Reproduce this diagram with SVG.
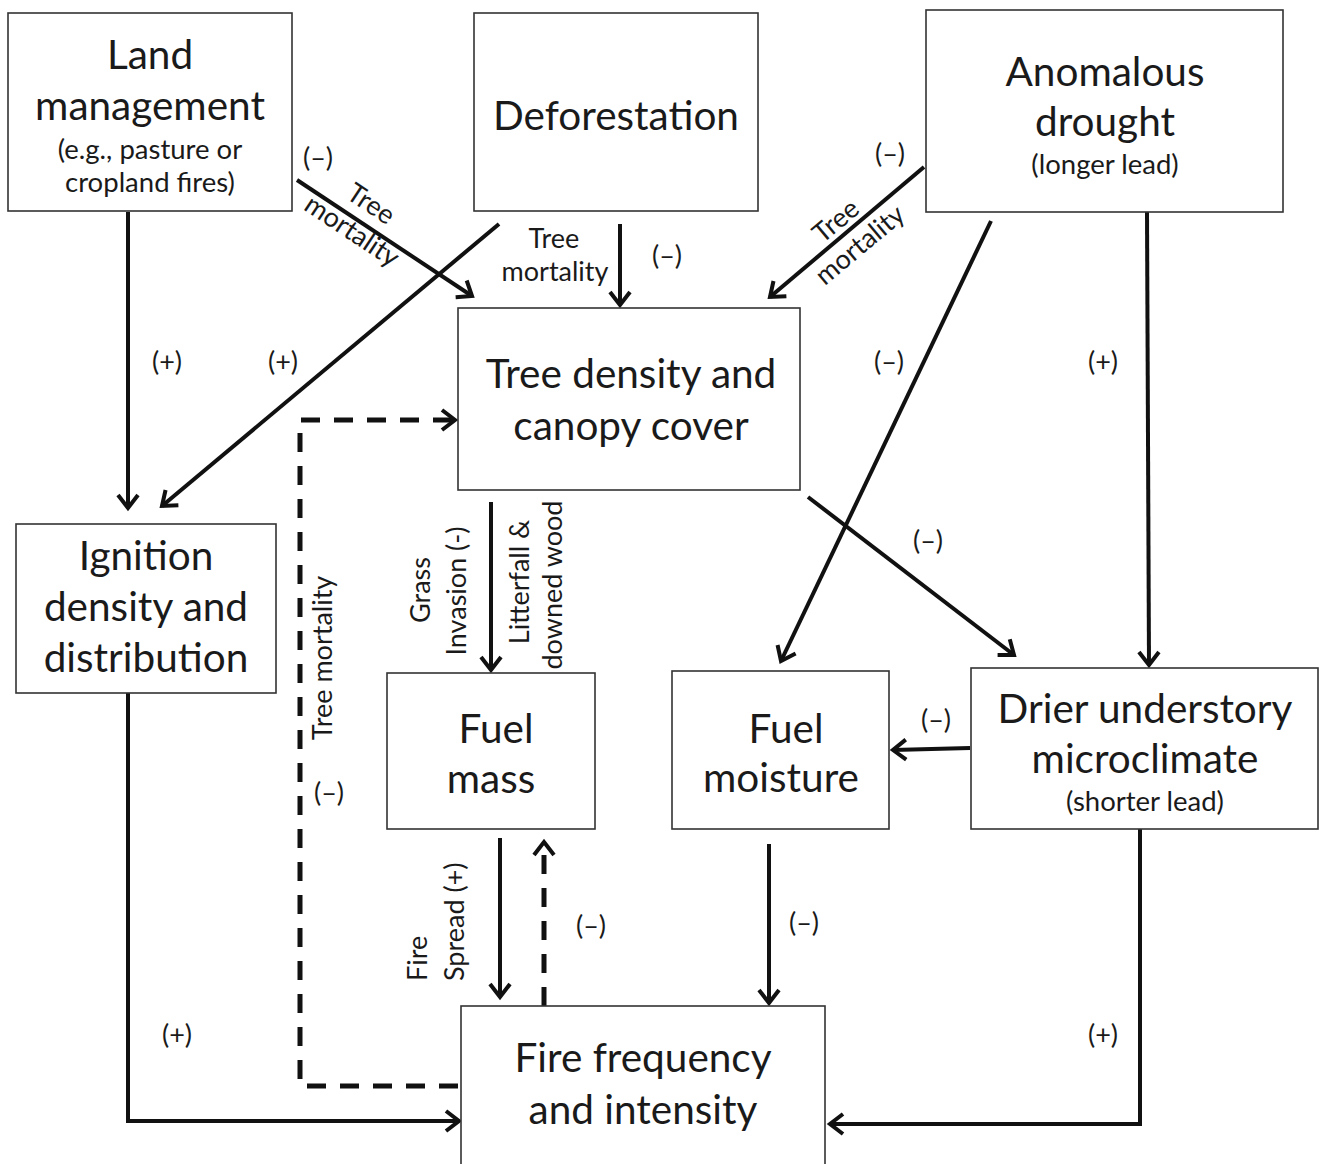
<svg xmlns="http://www.w3.org/2000/svg" width="1320" height="1164" viewBox="0 0 1320 1164">
<style>
.box{fill:#fff;stroke:#333;stroke-width:1.6}
.big{font-family:Lato,"Open Sans",sans-serif;font-size:40.5px;fill:#1a1a1a;text-anchor:middle}
.sm{font-family:Lato,"Open Sans",sans-serif;font-size:27.5px;fill:#1a1a1a;text-anchor:middle}
.lbl{font-family:Lato,"Open Sans",sans-serif;font-size:27px;fill:#1a1a1a;text-anchor:middle}
.c{fill:none;stroke:#111;stroke-width:4;marker-end:url(#arr)}
.d{stroke-dasharray:19 14;stroke-width:5}
</style>
<defs>
<marker id="arr" viewBox="-20 -15 30 30" refX="0" refY="0" markerWidth="30" markerHeight="30" markerUnits="userSpaceOnUse" orient="auto">
<path d="M-13,-10 L0,0 L-13,10" fill="none" stroke="#111" stroke-width="4"/>
</marker>
</defs>

<g id="connectors">
<path class="c" d="M128,212 V508"/>
<path class="c" d="M297,180 L472,296"/>
<path class="c" d="M499,224 L162,506"/>
<path class="c" d="M620,224 V305"/>
<path class="c" d="M924,167 L770,297"/>
<path class="c" d="M991,221 L781,661"/>
<path class="c" d="M1147,212 L1149,665"/>
<path class="c" d="M808,497 L1014,655"/>
<path class="c" d="M491,502 V670"/>
<path class="c" d="M970,748 L893,750"/>
<path class="c" d="M500,838 V997"/>
<path class="c d" d="M544,1006 V842"/>
<path class="c" d="M769,844 V1003"/>
<path class="c" d="M128,693 V1121 H459"/>
<path class="c" d="M1140,829 V1124 H830"/>
<path class="c d" d="M458,1086 H300 V420 H455"/>

<text class="lbl" x="318" y="167">(–)</text>
<text class="lbl" transform="translate(371,204) rotate(33.5)" y="9">Tree</text>
<text class="lbl" transform="translate(352,231) rotate(33.5)" y="9">mortality</text>
<text class="lbl" x="167" y="371">(+)</text>
<text class="lbl" x="283" y="371">(+)</text>
<text class="lbl" x="554" y="248">Tree</text>
<text class="lbl" x="555" y="281">mortality</text>
<text class="lbl" x="667" y="265">(–)</text>
<text class="lbl" x="890" y="163">(–)</text>
<text class="lbl" transform="translate(836,221) rotate(-40)" y="9">Tree</text>
<text class="lbl" transform="translate(860,245) rotate(-40)" y="9">mortality</text>
<text class="lbl" x="889" y="371">(–)</text>
<text class="lbl" x="1103" y="371">(+)</text>
<text class="lbl" x="928" y="550">(–)</text>
<text class="lbl" transform="translate(421,590) rotate(-90)" y="9">Grass</text>
<text class="lbl" transform="translate(457,591) rotate(-90)" y="9">Invasion (-)</text>
<text class="lbl" transform="translate(520,582) rotate(-90)" y="9">Litterfall &amp;</text>
<text class="lbl" transform="translate(553,585) rotate(-90)" y="9">downed wood</text>
<text class="lbl" transform="translate(323,658) rotate(-90)" y="9">Tree mortality</text>
<text class="lbl" x="329" y="802">(–)</text>
<text class="lbl" x="936" y="729">(–)</text>
<text class="lbl" transform="translate(418,981) rotate(-90)" y="9" style="text-anchor:start">Fire</text>
<text class="lbl" transform="translate(455,981) rotate(-90)" y="9" style="text-anchor:start">Spread (+)</text>
<text class="lbl" x="591" y="935">(–)</text>
<text class="lbl" x="804" y="932">(–)</text>
<text class="lbl" x="177" y="1044">(+)</text>
<text class="lbl" x="1103" y="1044">(+)</text>
</g>

<g id="land-management">
<rect class="box" x="8" y="13" width="284" height="198"/>
<text class="big" x="150" y="69">Land</text>
<text class="big" x="150" y="120">management</text>
<text class="sm" x="150" y="159">(e.g., pasture or</text>
<text class="sm" x="150" y="192">cropland fires)</text>
</g>

<g id="deforestation">
<rect class="box" x="474" y="13" width="284" height="198"/>
<text class="big" x="616" y="130">Deforestation</text>
</g>

<g id="anomalous-drought">
<rect class="box" x="926" y="10" width="357" height="202"/>
<text class="big" x="1105" y="86">Anomalous</text>
<text class="big" x="1105" y="136">drought</text>
<text class="sm" x="1105" y="174">(longer lead)</text>
</g>

<g id="tree-density">
<rect class="box" x="458" y="308" width="342" height="182"/>
<text class="big" x="631" y="388">Tree density and</text>
<text class="big" x="631" y="440">canopy cover</text>
</g>

<g id="ignition">
<rect class="box" x="16" y="524" width="260" height="169"/>
<text class="big" x="146" y="570">Ignition</text>
<text class="big" x="146" y="621">density and</text>
<text class="big" x="146" y="672">distribution</text>
</g>

<g id="fuel-mass">
<rect class="box" x="387" y="673" width="208" height="156"/>
<text class="big" x="496" y="743">Fuel</text>
<text class="big" x="491" y="793">mass</text>
</g>

<g id="fuel-moisture">
<rect class="box" x="672" y="671" width="217" height="158"/>
<text class="big" x="786" y="743">Fuel</text>
<text class="big" x="781" y="792">moisture</text>
</g>

<g id="drier-understory">
<rect class="box" x="971" y="668" width="347" height="161"/>
<text class="big" x="1145" y="723">Drier understory</text>
<text class="big" x="1145" y="773">microclimate</text>
<text class="sm" x="1145" y="811">(shorter lead)</text>
</g>

<g id="fire-frequency">
<rect class="box" x="461" y="1006" width="364" height="170"/>
<text class="big" x="643" y="1072">Fire frequency</text>
<text class="big" x="643" y="1124">and intensity</text>
</g>
</svg>
